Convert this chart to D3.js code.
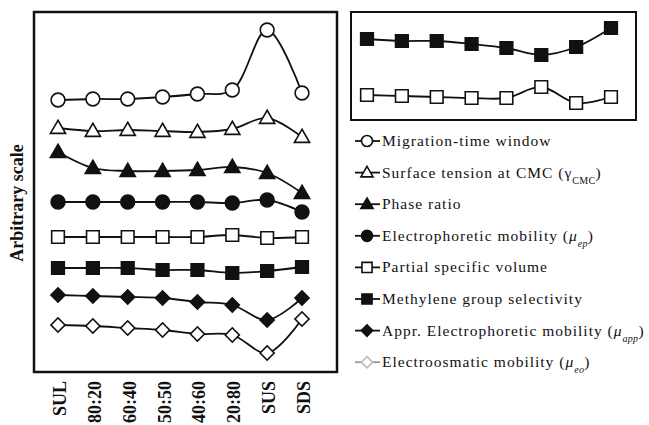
<!DOCTYPE html>
<html>
<head>
<meta charset="utf-8">
<script src="https://cdn.jsdelivr.net/npm/d3@7"></script>
<style>
  html, body { margin: 0; padding: 0; background: #fff; }
  svg { display: block; }
  svg text { font-family: "Liberation Serif", "Times New Roman", serif; }
</style>
</head>
<body>
<svg id="chart" width="649" height="425"></svg>
<script>
// Surfactant systems along the x axis
const categories = ["SUL", "80:20", "60:40", "50:50", "40:60", "20:80", "SUS", "SDS"];

// Main panel series (arbitrary scale)
const migrationWindow   = [27.2, 27.3, 27.3, 27.5, 27.8, 28.2, 34.2, 27.9];
const surfaceTension    = [24.4, 24.1, 24.2, 24.1, 24.0, 24.3, 25.4, 23.5];
const phaseRatio        = [22.0, 20.4, 20.1, 20.1, 20.2, 20.5, 19.9, 17.9];
const epMobility        = [17.0, 17.0, 17.0, 17.0, 17.0, 16.9, 17.2, 16.0];
const specificVolume    = [13.5, 13.5, 13.5, 13.5, 13.5, 13.7, 13.4, 13.5];
const methyleneSelect   = [10.4, 10.4, 10.4, 10.2, 10.2, 9.9, 10.1, 10.5];
const apparentEpMobility = [7.7, 7.6, 7.5, 7.4, 7.0, 6.7, 5.2, 7.4];
const eoMobility        = [4.7, 4.6, 4.4, 4.2, 3.8, 3.7, 1.9, 5.3];

// Expanded-scale panel: methylene group selectivity and partial specific volume
const insetMethylene = [8.1, 7.9, 7.9, 7.6, 7.2, 6.5, 7.3, 9.2];
const insetVolume    = [2.5, 2.4, 2.3, 2.2, 2.2, 3.3, 1.7, 2.3];

const FONT = '"Liberation Serif", "Times New Roman", serif';
const svg = d3.select("#chart");

const main = { left: 34, top: 12, right: 337, bottom: 372 };
const inset = { left: 351, top: 12, right: 636, bottom: 120 };

const x = d3.scalePoint().domain(categories).range([58, 302]);
const y = d3.scaleLinear().domain([0, 36]).range([main.bottom, main.top]);

const xi = d3.scalePoint().domain(categories).range([367, 611]);
const yi = d3.scaleLinear().domain([0, 10.8]).range([inset.bottom, inset.top]);

// Marker shapes
const shapes = {
  circle:   { type: d3.symbolCircle,   size: 150, rotate: 0, dy: 0 },
  triangle: { type: d3.symbolTriangle, size: 100, rotate: 0, dy: 1 },
  square:   { type: d3.symbolSquare,   size: 160, rotate: 0, dy: 0 },
  diamond:  { type: d3.symbolSquare,   size: 100, rotate: 45, dy: 0 }
};

const series = [
  { name: "migration", values: migrationWindow,    shape: "circle",   filled: false },
  { name: "tension",   values: surfaceTension,     shape: "triangle", filled: false },
  { name: "phase",     values: phaseRatio,         shape: "triangle", filled: true },
  { name: "ep",        values: epMobility,         shape: "circle",   filled: true },
  { name: "psv",       values: specificVolume,     shape: "square",   filled: false },
  { name: "ch2",       values: methyleneSelect,    shape: "square",   filled: true },
  { name: "app",       values: apparentEpMobility, shape: "diamond",  filled: true },
  { name: "eo",        values: eoMobility,         shape: "diamond",  filled: false }
];

function drawMarker(g, shapeName, filled, cx, cy, scale, color) {
  const s = shapes[shapeName];
  g.append("path")
    .attr("d", d3.symbol().type(s.type).size(s.size * scale * scale)())
    .attr("transform", `translate(${cx},${cy + s.dy * scale}) rotate(${s.rotate})`)
    .attr("fill", filled ? color : "#fff")
    .attr("stroke", color)
    .attr("stroke-width", 1.6);
}

function drawSeries(g, values, shape, filled, xs, ys) {
  const line = d3.line()
    .x((d, i) => xs(categories[i]))
    .y(d => ys(d))
    .curve(d3.curveCatmullRom.alpha(0.5));
  g.append("path")
    .attr("d", line(values))
    .attr("fill", "none")
    .attr("stroke", "#111")
    .attr("stroke-width", 1.8);
  values.forEach((v, i) => drawMarker(g, shape, filled, xs(categories[i]), ys(v), 1, "#111"));
}

// Main panel frame
svg.append("rect")
  .attr("x", main.left).attr("y", main.top)
  .attr("width", main.right - main.left).attr("height", main.bottom - main.top)
  .attr("fill", "#fff").attr("stroke", "#111").attr("stroke-width", 2.5);

const mainG = svg.append("g");
series.forEach(s => drawSeries(mainG, s.values, s.shape, s.filled, x, y));

// Category labels, rotated
svg.append("g")
  .selectAll("text")
  .data(categories)
  .join("text")
  .attr("transform", d => `translate(${x(d) + 8},381) rotate(-90)`)
  .attr("text-anchor", "end")
  .attr("font-family", FONT)
  .attr("font-weight", "bold")
  .attr("font-size", 18)
  .attr("fill", "#111")
  .text(d => d);

// Axis title
svg.append("text")
  .attr("transform", `translate(23,203) rotate(-90)`)
  .attr("text-anchor", "middle")
  .attr("font-family", FONT)
  .attr("font-weight", "bold")
  .attr("font-size", 18)
  .attr("fill", "#111")
  .text("Arbitrary scale");

// Expanded-scale panel
svg.append("rect")
  .attr("x", inset.left).attr("y", inset.top)
  .attr("width", inset.right - inset.left).attr("height", inset.bottom - inset.top)
  .attr("fill", "#fff").attr("stroke", "#111").attr("stroke-width", 2);

const insetG = svg.append("g");
drawSeries(insetG, insetMethylene, "square", true, xi, yi);
drawSeries(insetG, insetVolume, "square", false, xi, yi);

// Legend
const legendItems = [
  { shape: "circle",   filled: false, color: "#111", parts: [["Migration-time window"]] },
  { shape: "triangle", filled: false, color: "#111", parts: [["Surface tension at CMC ("], ["γ"], ["CMC", "sub"], [")"]] },
  { shape: "triangle", filled: true,  color: "#111", parts: [["Phase ratio"]] },
  { shape: "circle",   filled: true,  color: "#111", parts: [["Electrophoretic mobility ("], ["μ", "it"], ["ep", "subit"], [")"]] },
  { shape: "square",   filled: false, color: "#111", parts: [["Partial specific volume"]] },
  { shape: "square",   filled: true,  color: "#111", parts: [["Methylene group selectivity"]] },
  { shape: "diamond",  filled: true,  color: "#111", parts: [["Appr. Electrophoretic mobility ("], ["μ", "it"], ["app", "subit"], [")"]] },
  { shape: "diamond",  filled: false, color: "#bbb", parts: [["Electroosmatic mobility ("], ["μ", "it"], ["eo", "subit"], [")"]] }
];

const legend = svg.append("g");
legendItems.forEach((item, i) => {
  const ly = 141 + i * 31.6;
  const g = legend.append("g");
  g.append("line")
    .attr("x1", 355).attr("x2", 380).attr("y1", ly).attr("y2", ly)
    .attr("stroke", item.color === "#111" ? "#111" : "#999").attr("stroke-width", 1.8);
  drawMarker(g, item.shape, item.filled, 367, ly, 0.8, item.color);
  const t = g.append("text")
    .attr("x", 382).attr("y", ly + 5)
    .attr("font-family", FONT)
    .attr("font-size", 15.5)
    .attr("letter-spacing", 1)
    .attr("fill", "#111");
  item.parts.forEach(([str, style]) => {
    const ts = t.append("tspan").text(str);
    if (style === "it" || style === "subit") ts.attr("font-style", "italic");
    if (style === "sub" || style === "subit") {
      ts.attr("font-size", 10).attr("baseline-shift", "sub").attr("letter-spacing", 0.3);
    }
  });
});
</script>
</body>
</html>
